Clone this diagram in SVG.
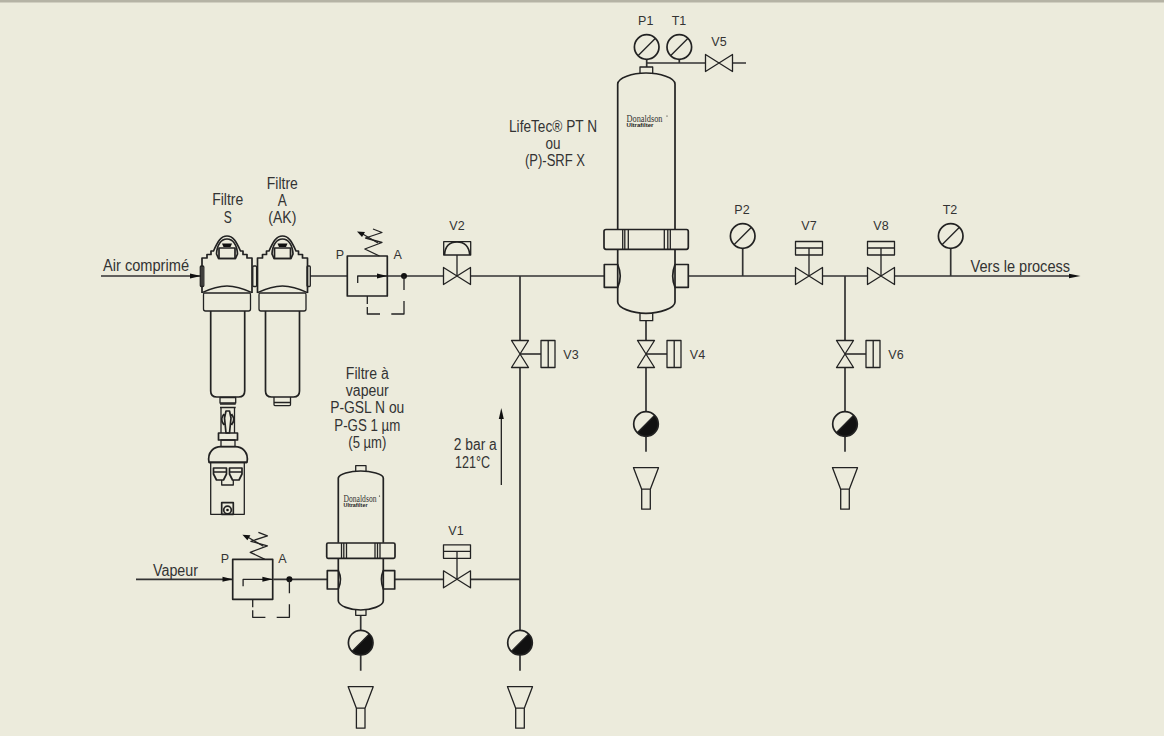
<svg xmlns="http://www.w3.org/2000/svg" xmlns:xlink="http://www.w3.org/1999/xlink" width="1164" height="736" viewBox="0 0 1164 736">
<style>
.l{fill:none;stroke:#222;stroke-width:1.3;stroke-linejoin:round}
.b{fill:none;stroke:#222;stroke-width:1.7;stroke-linejoin:round}
.p{fill:none;stroke:#333;stroke-width:1.7}
.k{fill:#111;stroke:none}
text{font-family:"Liberation Sans",Arial,sans-serif;fill:#333}
.t{font-size:16px;text-anchor:middle}
.s{font-size:12.5px;text-anchor:middle}
.d{font-family:"Liberation Serif",serif;font-size:10px;fill:#333}
.u{font-size:4.5px;font-weight:bold;fill:#222}
</style>
<defs>
<g id="gauge"><circle class="b" r="12.3"/><path class="l" d="M-8.5 8.5L8.5-8.5"/></g>
<g id="trap"><circle r="12.3" fill="#ecebdc"/><path class="k" d="M-8.7 8.7A12.3 12.3 0 0 0 8.7-8.7Z"/><circle class="b" r="12.3"/><path class="l" d="M-8.7 8.7L8.7-8.700"/></g>
<g id="funnel"><path class="l" d="M-12.5 0H12.5L4.300 21.500V41.500H-4.300V21.500ZM-4.300 21.500H4.300"/></g>
<g id="hv"><path class="l" d="M-13.500-8.500L13.500 8.500V-8.500L-13.500 8.500Z"/></g>
<g id="vv"><path class="l" d="M-8.500-13.500L8.500 13.500H-8.500L8.500-13.500Z"/></g>
<g id="hand-v"><use href="#vv"/><path class="l" d="M0 0H21M21-13.500H35V13.500H21ZM28.200-13.500V13.500"/></g>
<g id="act"><use href="#hv"/><path class="l" d="M-13.500-34.500H13.500V-21H-13.500ZM-13.500-28H13.500M0-28V0"/></g>
<g id="reg">
<rect class="b" x="347.300" y="256" width="40" height="40"/>
<path class="l" d="M357.700 283V276H387.300"/>
<path class="k" d="M377 273.500L387.300 276L377 278.500Z"/>
<circle class="k" cx="404" cy="276" r="3"/>
<path class="l" d="M404 276V290M404 301V314H391.300M380 314H367.300V307M367.300 304V296"/>
<path class="l" d="M379.500 256L364.800 249L382 242.500L365.500 238L382 232.500L373 229"/>
<path class="l" d="M378 243L361 233"/>
<path class="k" d="M357 231.500L365 232L362 237Z"/>
</g>
<g id="head">
<path class="b" d="M-25 293V258H-20V254.500H-16V251H-13.500C-9 241-6 236 0 236C6 236 9 241 13.500 251H16V254.500H20V258H25V293"/>
<path class="l" d="M-25 292.700C-13 287-6 286 0 286C6 286 13 287 25 292.700"/>
<path class="b" d="M-10.500 254C-10 245-6 239 0 239C6 239 10 245 10.500 254L8.500 258.500H-8.500Z"/>
<rect class="b" x="-8" y="248" width="16" height="10.500"/>
<path class="k" d="M-5 243.500H5L3.500 247H-3.500Z"/>
<path class="l" d="M-22.800 293H22.800Q23.500 293 23.500 295V309Q23.500 311 21.500 311H-21.500Q-23.500 311-23.500 309V295Q-23.500 293-22.800 293Z"/>
</g>
<g id="bowl"><path class="b" d="M-17 311V391Q-17 397-11 397H11Q17 397 17 391V311"/></g>
</defs>
<rect width="1164" height="736" fill="#ecebdc"/>
<rect width="1164" height="2.500" fill="#b5b3a5"/>

<g id="connectors">
<path class="p" d="M101 276H201M310 276H347.300M387.300 276H444M471 276H604.300M688.300 276H796M822.700 276H868M894.700 276H1072"/>
<path class="p" d="M520 276V340.500M520 367.500V630.500M520 655V670.700"/>
<path class="p" d="M646 320.700V340.500M646 367.500V411M646 436V451.700"/>
<path class="p" d="M845 276V340.500M845 367.500V411M845 436V451.700"/>
<path class="p" d="M742.700 248.500V276M950.700 248.500V276"/>
<path class="p" d="M646.700 59.500V67M646.700 63H705.700M679.300 59.500V63M732 63H746"/>
<path class="p" d="M136 579.300H232.700M273.300 579.300H327.300M394.700 579.300H444M471 579.300H520"/>
<path class="p" d="M360.700 615.300V630.500M360.700 655V670.700"/>
<path class="k" d="M190 273.500L201 276L190 278.500Z"/>
<path class="k" d="M222.500 576.800L232.700 579.300L222.500 581.800Z"/>
<path class="k" d="M1069 273.800L1080.500 276L1069 278.200Z"/>
<path class="p" style="stroke:#111;stroke-width:1.2" d="M501.300 485V414"/>
<path class="k" d="M501.300 408L503.800 419H498.800Z"/>
</g>

<g id="filter-s">
<use href="#head" x="227"/><use href="#bowl" x="227.700"/>
<rect class="l" x="200.300" y="266" width="3.500" height="20.500" rx="1"/>
<text class="t" x="227.700" y="205" textLength="31" lengthAdjust="spacingAndGlyphs">Filtre</text>
<text class="t" x="227.700" y="222.700" textLength="8" lengthAdjust="spacingAndGlyphs">S</text>
</g>
<g id="filter-a">
<use href="#head" x="282.500"/><use href="#bowl" x="282.500"/>
<rect class="l" x="252.800" y="266" width="3.800" height="20.500" rx="1"/>
<rect class="l" x="307" y="266" width="3.300" height="20.500" rx="1"/>
<path class="l" d="M274 397V404.500Q274 405.700 275.500 405.700H289Q290.500 405.700 290.500 404.500V397M274 402.500H290.500"/>
<text class="t" x="282.300" y="189" textLength="31" lengthAdjust="spacingAndGlyphs">Filtre</text>
<text class="t" x="282.300" y="206" textLength="9" lengthAdjust="spacingAndGlyphs">A</text>
<text class="t" x="282.300" y="222.700" textLength="28" lengthAdjust="spacingAndGlyphs">(AK)</text>
</g>
<g id="label-air"><text class="t" x="146" y="271" textLength="86" lengthAdjust="spacingAndGlyphs">Air comprimé</text></g>
<g id="drain-auto">
<path class="l" d="M220 397.500H235.700V403H220Z"/>
<path class="b" d="M220 404H235.700M220 407.500H235.700"/>
<path class="l" d="M221 408V433M234.500 408V433"/>
<path class="b" d="M224 425C220 420 222 417 224 414M231.500 425C235.500 420 233.500 417 231.500 414M226 411H229.500L231 418L229.500 433H226L224.500 418Z"/>
<rect class="b" x="218.500" y="433" width="19" height="7"/>
<rect class="l" x="221" y="440" width="14" height="6.700"/>
<path class="b" d="M209 462.300C207 452 214 446.700 221 446.700H235C242 446.700 249 452 247 462.300Z"/>
<path class="b" d="M209 462.300H247"/>
<path class="l" d="M210.700 462.300V514.300H244.300V462.300"/>
<path class="b" d="M213.500 468H226.500V474L223.500 480H216.500L213.500 474ZM229.500 468H242V474L239 480H232.500L229.500 474ZM213.500 472H226.500M229.500 472H242"/>
<path class="l" d="M221.700 480V485H233.300V480"/>
<rect class="b" x="221.700" y="502.700" width="11.600" height="11.600"/>
<circle class="b" cx="227.500" cy="510" r="3.800"/><circle class="k" cx="227.500" cy="510" r="1.300"/>
</g>
<g id="regulator-1"><use href="#reg"/>
<text class="s" x="340" y="259">P</text><text class="s" x="397.700" y="259">A</text></g>
<g id="regulator-2"><use href="#reg" x="-114.600" y="303.300"/>
<text class="s" x="225" y="562.700">P</text><text class="s" x="282.500" y="562.700">A</text>
<text class="t" x="175.500" y="576" textLength="45" lengthAdjust="spacingAndGlyphs">Vapeur</text></g>

<g id="v2"><use href="#hv" x="457" y="276"/>
<path class="l" d="M443.700 241.700H470.700V255H443.700ZM457 255V276"/>
<path class="b" d="M444.500 255C445 246 450 242 457 242C464 242 469 246 469.800 255"/>
<text class="s" x="457" y="230">V2</text></g>
<g id="v3"><use href="#hand-v" x="520" y="354"/><text class="s" x="571" y="359">V3</text></g>
<g id="v4"><use href="#hand-v" x="646" y="354"/><text class="s" x="697.500" y="359">V4</text></g>
<g id="v6"><use href="#hand-v" x="845" y="354"/><text class="s" x="896" y="359">V6</text></g>
<g id="v1"><use href="#act" x="457" y="579.300"/><text class="s" x="456" y="535">V1</text></g>
<g id="v7"><use href="#act" x="809" y="276"/><text class="s" x="809" y="230">V7</text></g>
<g id="v8"><use href="#act" x="881" y="276"/><text class="s" x="881" y="230">V8</text></g>
<g id="v5"><use href="#hv" x="719" y="63"/><text class="s" x="719" y="46">V5</text></g>

<g id="p1"><use href="#gauge" x="646.700" y="47"/><text class="s" x="645.700" y="25">P1</text></g>
<g id="t1"><use href="#gauge" x="679.300" y="47"/><text class="s" x="679" y="25">T1</text></g>
<g id="p2"><use href="#gauge" x="742.700" y="236"/><text class="s" x="742" y="214">P2</text></g>
<g id="t2"><use href="#gauge" x="950.700" y="236"/><text class="s" x="950" y="214">T2</text></g>

<g id="filter-main">
<path class="l" d="M640 73V67H652.700V73"/>
<path class="b" d="M617.700 229.300V84C618 78 632 73 646 73C660 73 675 78 675 84V229.300"/>
<path class="b" d="M606 229.500H686.500Q688.300 229.500 688.300 231.500V247Q688.300 249.300 686.500 249.300H606Q604 249.300 604 247V231.500Q604 229.500 606 229.500Z"/>
<path class="l" d="M622.700 229.500V249.300M624.800 229.500V249.300M628.300 229.500V249.300M664.300 229.500V249.300M667.800 229.500V249.300M670.300 229.500V249.300"/>
<path class="b" d="M617.700 249.300V302C618 308 632 313.300 646 313.300C660 313.300 675 308 675 302V249.300"/>
<path class="b" d="M617.700 264.500H604.300V287.300H617.700C621 280 621 272 617.700 264.500ZM675 264.500H688.300V287.300H675C672 280 672 272 675 264.500Z"/>
<path class="l" d="M640 313.300V320.700H652.700V313.300"/>
<text class="d" x="626.500" y="122" textLength="36" lengthAdjust="spacingAndGlyphs">Donaldson</text>
<text class="u" x="626.500" y="127" textLength="27" lengthAdjust="spacingAndGlyphs">Ultrafilter</text>
<circle class="k" cx="667" cy="116" r=".6"/>
<text class="t" x="553" y="132" textLength="88" lengthAdjust="spacingAndGlyphs">LifeTec® PT N</text>
<text class="t" x="553" y="149" textLength="15" lengthAdjust="spacingAndGlyphs">ou</text>
<text class="t" x="555" y="166" textLength="60" lengthAdjust="spacingAndGlyphs">(P)-SRF X</text>
</g>

<g id="filter-steam">
<path class="l" d="M355.700 471V465.700H366V471"/>
<path class="b" d="M338.300 542.700V478C339 474 350 471 360.700 471C371 471 383 474 383.300 478V542.700"/>
<path class="b" d="M328 543H393.500Q395 543 395 544.500V556.800Q395 558.300 393.500 558.300H328Q326.700 558.300 326.700 556.800V544.500Q326.700 543 328 543Z"/>
<path class="l" d="M341.500 543V558.300M343.800 543V558.300M346.500 543V558.300M375 543V558.300M377.500 543V558.300M380 543V558.300"/>
<path class="b" d="M338.300 558.300V601C339 606 350 610 360.700 610C371 610 383 606 383.300 601V558.300"/>
<path class="b" d="M338.300 570.700H327.300V589H338.300C341 583 341 576 338.300 570.700ZM383.300 570.700H394.700V589H383.300C381 583 381 576 383.300 570.700Z"/>
<path class="l" d="M355.700 610V615.300H366V610"/>
<text class="d" x="343.500" y="502" textLength="33" lengthAdjust="spacingAndGlyphs">Donaldson</text>
<text class="u" x="343.500" y="506.500" textLength="24" lengthAdjust="spacingAndGlyphs">Ultrafilter</text>
<circle class="k" cx="379.500" cy="496" r=".6"/>
<text class="t" x="367.300" y="379" textLength="43" lengthAdjust="spacingAndGlyphs">Filtre à</text>
<text class="t" x="367.300" y="396" textLength="43" lengthAdjust="spacingAndGlyphs">vapeur</text>
<text class="t" x="367.300" y="413.300" textLength="74" lengthAdjust="spacingAndGlyphs">P-GSL N ou</text>
<text class="t" x="367.300" y="430.700" textLength="66" lengthAdjust="spacingAndGlyphs">P-GS 1 µm</text>
<text class="t" x="367.300" y="447.700" textLength="38" lengthAdjust="spacingAndGlyphs">(5 µm)</text>
</g>

<g id="drain-1"><use href="#trap" x="360.700" y="642.700"/><use href="#funnel" x="360.700" y="686.700"/></g>
<g id="drain-2"><use href="#trap" x="520" y="642.700"/><use href="#funnel" x="520" y="686.700"/></g>
<g id="drain-3"><use href="#trap" x="646" y="424"/><use href="#funnel" x="646" y="467.700"/></g>
<g id="drain-4"><use href="#trap" x="845" y="424"/><use href="#funnel" x="845" y="467.700"/></g>

<g id="label-pressure">
<text class="t" x="475.300" y="450" textLength="43" lengthAdjust="spacingAndGlyphs">2 bar a</text>
<text class="t" x="472.500" y="468" textLength="35" lengthAdjust="spacingAndGlyphs">121°C</text>
</g>
<g id="label-process"><text class="t" x="1020.300" y="271.500" textLength="99.500" lengthAdjust="spacingAndGlyphs">Vers le process</text></g>
</svg>
